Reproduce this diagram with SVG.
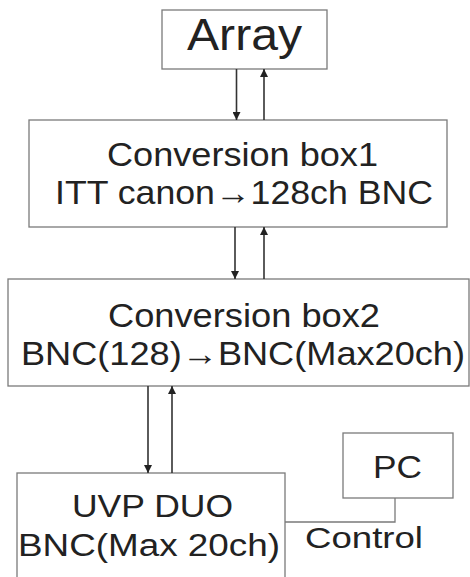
<svg xmlns="http://www.w3.org/2000/svg" width="470" height="577" viewBox="0 0 470 577">
  <style>
    .box { fill: #ffffff; stroke: #7a7a7a; stroke-width: 1.3; }
    .lbl { font-family: "Liberation Sans", Arial, sans-serif; fill: #222222; }
    .wire { stroke: #333333; stroke-width: 1.6; fill: none; }
    .ctl { stroke: #7a7a7a; stroke-width: 1.3; fill: none; }
  </style>
  <defs>
    <marker id="head" viewBox="0 0 10 10" refX="10" refY="5" markerWidth="10" markerHeight="8" markerUnits="userSpaceOnUse" orient="auto">
      <path d="M0,0 L10,5 L0,10 Z" fill="#222222"/>
    </marker>
  </defs>
  <rect width="470" height="577" fill="#ffffff"/>

  <g id="array">
    <rect class="box" x="162" y="10" width="165" height="59"/>
    <text class="lbl" x="187" y="50" font-size="44" textLength="115" lengthAdjust="spacingAndGlyphs">Array</text>
  </g>

  <g id="box1">
    <rect class="box" x="29" y="120" width="418" height="107"/>
    <text class="lbl" x="107" y="166" font-size="33" textLength="271" lengthAdjust="spacingAndGlyphs">Conversion box1</text>
    <text class="lbl" x="55" y="204" font-size="33" textLength="378" lengthAdjust="spacingAndGlyphs">ITT canon→128ch BNC</text>
  </g>

  <g id="box2">
    <rect class="box" x="8" y="279" width="461" height="107"/>
    <text class="lbl" x="108" y="327" font-size="33" textLength="272" lengthAdjust="spacingAndGlyphs">Conversion box2</text>
    <text class="lbl" x="21" y="365" font-size="33" textLength="444" lengthAdjust="spacingAndGlyphs">BNC(128)→BNC(Max20ch)</text>
  </g>

  <g id="uvp">
    <rect class="box" x="17" y="473" width="268" height="110"/>
    <text class="lbl" x="72" y="517" font-size="31" textLength="161" lengthAdjust="spacingAndGlyphs">UVP DUO</text>
    <text class="lbl" x="18" y="556" font-size="31" textLength="262" lengthAdjust="spacingAndGlyphs">BNC(Max 20ch)</text>
  </g>

  <g id="pc">
    <rect class="box" x="343" y="433" width="110" height="65"/>
    <text class="lbl" x="373" y="478" font-size="32" textLength="49" lengthAdjust="spacingAndGlyphs">PC</text>
  </g>

  <g id="connectors">
    <line class="wire" x1="236.5" y1="69" x2="236.5" y2="120" marker-end="url(#head)"/>
    <line class="wire" x1="264" y1="120" x2="264" y2="69" marker-end="url(#head)"/>
    <line class="wire" x1="235" y1="227" x2="235" y2="279" marker-end="url(#head)"/>
    <line class="wire" x1="264" y1="279" x2="264" y2="227" marker-end="url(#head)"/>
    <line class="wire" x1="148" y1="386" x2="148" y2="473" marker-end="url(#head)"/>
    <line class="wire" x1="172" y1="473" x2="172" y2="386" marker-end="url(#head)"/>
    <polyline class="ctl" points="285,522 395,522 395,498"/>
    <text class="lbl" x="305" y="548" font-size="29" textLength="118" lengthAdjust="spacingAndGlyphs">Control</text>
  </g>
</svg>
